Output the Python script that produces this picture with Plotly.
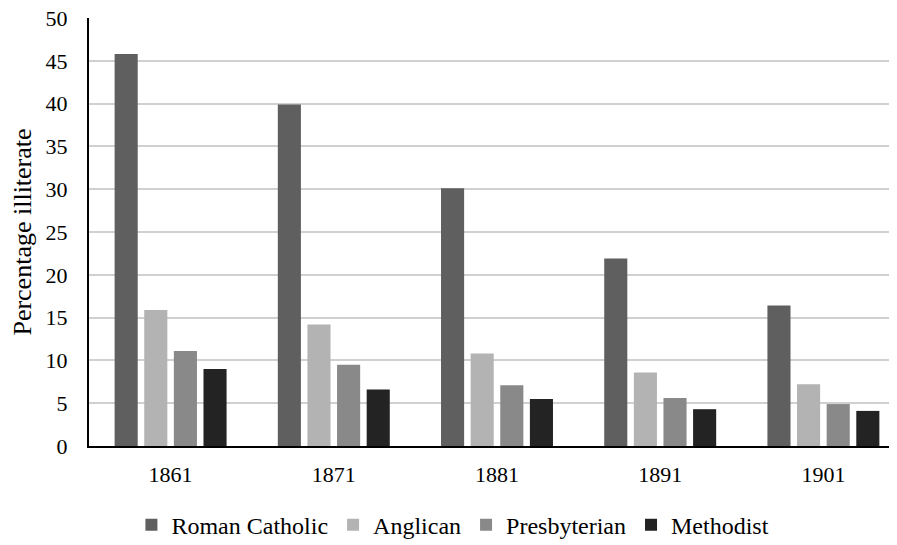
import plotly.graph_objects as go

years = ["1861", "1871", "1881", "1891", "1901"]
roman_catholic = [45.8, 39.9, 30.1, 21.9, 16.4]
anglican = [15.9, 14.2, 10.8, 8.6, 7.2]
presbyterian = [11.1, 9.5, 7.1, 5.6, 4.9]
methodist = [9.0, 6.6, 5.5, 4.3, 4.1]

series = [
    ("Roman Catholic", roman_catholic, "#5f5f5f"),
    ("Anglican", anglican, "#b3b3b3"),
    ("Presbyterian", presbyterian, "#898989"),
    ("Methodist", methodist, "#232323"),
]

fig = go.Figure()
for name, vals, col in series:
    fig.add_trace(go.Bar(
        x=years, y=vals, name=name,
        marker=dict(color=col, line=dict(width=0)),
    ))

font = "Liberation Serif"
fig.update_layout(
    width=897, height=545,
    margin=dict(l=81, r=0, t=10, b=107, autoexpand=False),
    paper_bgcolor="white", plot_bgcolor="white",
    barmode="group", bargap=0.274, bargroupgap=0.22,
    font=dict(family=font, size=22, color="black"),
    showlegend=True,
    legend=dict(orientation="h", xref="container", yref="container",
                x=0.496, xanchor="center", y=0.051, yanchor="middle",
                font=dict(family=font, size=24, color="black"),
                itemwidth=30, traceorder="normal"),
)
fig.update_xaxes(
    type="category", range=[-0.5, 4.5], automargin=False,
    showline=True, linecolor="black", linewidth=2,
    ticks="", ticklabelstandoff=8, showgrid=False,
    tickfont=dict(family=font, size=22, color="black"),
)
fig.update_yaxes(
    range=[0, 50], dtick=5, tick0=0, automargin=False,
    showline=True, linecolor="black", linewidth=2,
    showgrid=True, gridcolor="#d0d0d0", gridwidth=2,
    ticks="", ticklabelstandoff=15, ticklabeloverflow="allow", zeroline=False,
    tickfont=dict(family=font, size=22, color="black"),
    title=dict(text="Percentage illiterate",
               font=dict(family=font, size=26, color="black"), standoff=12),
)
fig.write_html("out.html")
